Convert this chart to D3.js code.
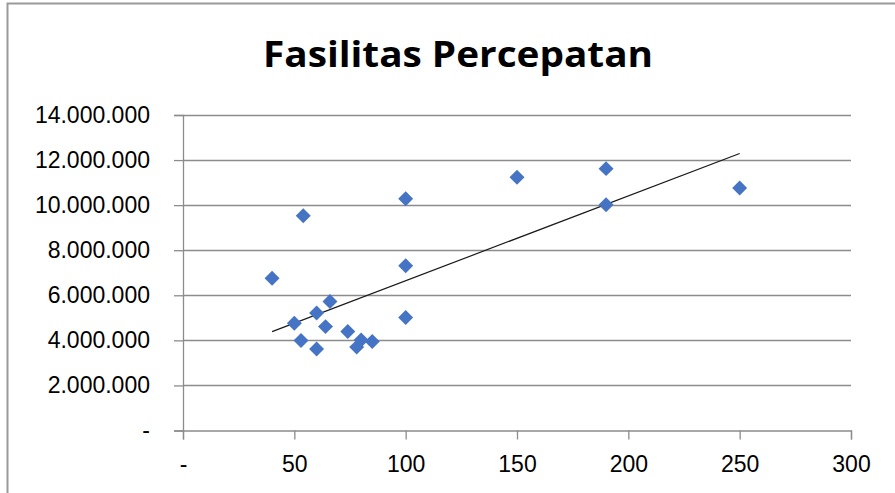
<!DOCTYPE html>
<html>
<head>
<meta charset="utf-8">
<script src="https://cdn.jsdelivr.net/npm/d3@7"></script>
<style>
  html, body { margin: 0; padding: 0; background: #fff; }
  svg { display: block; }
</style>
</head>
<body>
<svg id="chart" width="895" height="493"></svg>
<script>
// ---- data ----
const title = "Fasilitas Percepatan";
const xValues = [40, 50, 53, 54, 60, 60, 64, 66, 74, 78, 80, 85, 100, 100, 100, 150, 190, 190, 250];
const yValues = [6760000, 4760000, 3990000, 9530000, 3620000, 5210000, 4610000, 5720000, 4390000, 3700000, 4020000, 3950000, 10280000, 7310000, 5010000, 11240000, 11620000, 10020000, 10760000];
// linear trendline endpoints
const trendX = [40, 250];
const trendY = [4390000, 12290000];
const xTicks = [0, 50, 100, 150, 200, 250, 300];
const yTicks = [0, 2000000, 4000000, 6000000, 8000000, 10000000, 12000000, 14000000];

// ---- layout ----
const svg = d3.select("#chart");
const W = 895, H = 493;
const plot = { left: 183, right: 851, top: 115, bottom: 430.5 };

const x = d3.scaleLinear().domain([0, 300]).range([plot.left, plot.right]);
const y = d3.scaleLinear().domain([0, 14000000]).range([plot.bottom, plot.top]);

const grey = "#8c8c8c";
const font = "'Liberation Sans', Arial, sans-serif";

// outer chart border (left + top visible)
svg.append("rect")
  .attr("x", 7.5).attr("y", 3.5)
  .attr("width", W + 20).attr("height", H + 20)
  .attr("fill", "#fff")
  .attr("stroke", "#9a9a9a").attr("stroke-width", 2);

// title
svg.append("text")
  .attr("x", 458).attr("y", 67)
  .attr("text-anchor", "middle")
  .attr("font-family", "'Open Sans', 'Liberation Sans', sans-serif")
  .attr("font-weight", "bold")
  .attr("font-size", 36)
  .attr("textLength", 390)
  .attr("lengthAdjust", "spacingAndGlyphs")
  .attr("fill", "#000")
  .text(title);

// gridlines
svg.append("g")
  .selectAll("line")
  .data(yTicks.filter(d => d > 0))
  .join("line")
  .attr("x1", plot.left).attr("x2", plot.right)
  .attr("y1", d => Math.round(y(d)) + 0.5).attr("y2", d => Math.round(y(d)) + 0.5)
  .attr("stroke", grey).attr("stroke-width", 1.3);

const fmt = d => d === 0 ? "-" : d3.format(",")(d).replace(/,/g, ".");

// y axis
const yAxis = d3.axisLeft(y).tickValues(yTicks).tickSize(9).tickPadding(24).tickFormat(fmt);
const gy = svg.append("g").attr("transform", `translate(${plot.left},0)`).call(yAxis);
gy.select(".domain").attr("stroke", grey).attr("stroke-width", 1.3);
gy.selectAll(".tick line").attr("stroke", grey).attr("stroke-width", 1.3);
gy.selectAll("text").attr("font-family", font).attr("font-size", 23).attr("fill", "#000");

// x axis
const xAxis = d3.axisBottom(x).tickValues(xTicks).tickSize(9).tickPadding(16).tickFormat(fmt);
const gx = svg.append("g").attr("transform", `translate(0,${plot.bottom})`).call(xAxis);
gx.select(".domain").attr("stroke", grey).attr("stroke-width", 1.3);
gx.selectAll(".tick line").attr("stroke", grey).attr("stroke-width", 1.3);
gx.selectAll("text").attr("font-family", font).attr("font-size", 23).attr("fill", "#000");

// linear trendline
svg.append("line")
  .attr("x1", x(trendX[0])).attr("y1", y(trendY[0]))
  .attr("x2", x(trendX[1])).attr("y2", y(trendY[1]))
  .attr("stroke", "#1a1a1a").attr("stroke-width", 1.2);

// markers (diamonds)
const pts = xValues.map((d, i) => ({ x: d, y: yValues[i] }));
const sym = d3.symbol().type(d3.symbolSquare).size(112);
svg.append("g")
  .selectAll("path")
  .data(pts)
  .join("path")
  .attr("d", sym)
  .attr("transform", d => `translate(${x(d.x)},${y(d.y)}) rotate(45)`)
  .attr("fill", "#4674C4");
</script>
</body>
</html>
